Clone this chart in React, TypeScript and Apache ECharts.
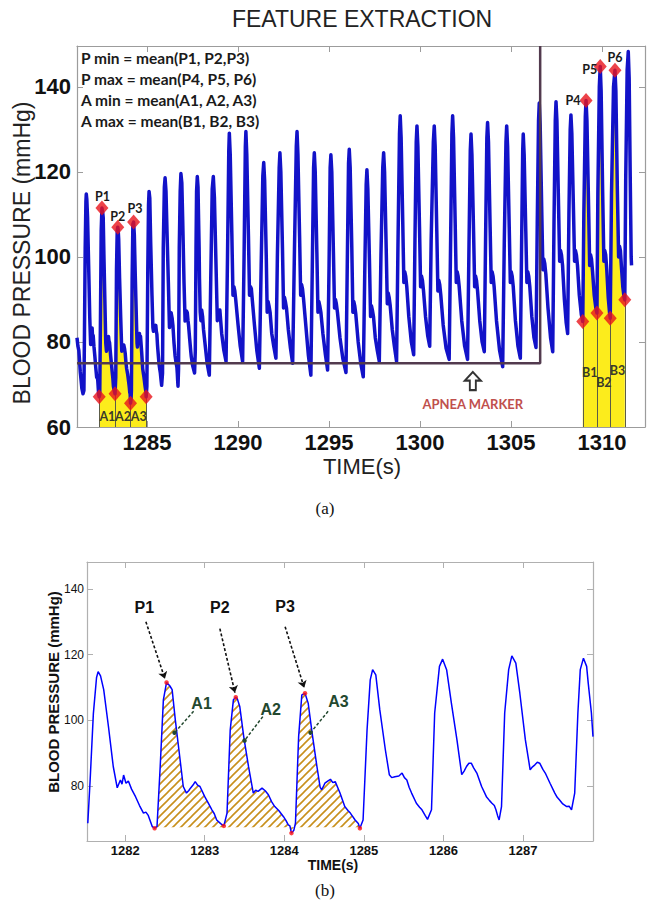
import React, { useEffect, useRef } from "react";
import * as echarts from "echarts";

// ---------- texts & ticks ----------
const chartTitle = "FEATURE EXTRACTION";
const formulaLines = [
  "P min = mean(P1, P2,P3)",
  "P max = mean(P4, P5, P6)",
  "A min = mean(A1, A2, A3)",
  "A max = mean(B1, B2, B3)",
];
const topXTicks = [1285, 1290, 1295, 1300, 1305, 1310];
const topYTicks = [60, 80, 100, 120, 140];
const botXTicks = [1282, 1283, 1284, 1285, 1286, 1287];
const botYTicks = [80, 100, 120, 140];

// ---------- blood pressure samples [time (s), mmHg] ----------
const leadIn: [number, number][] = [
  [1281.15, 81], [1281.2, 79], [1281.25, 78], [1281.33, 73], [1281.42, 69], [1281.48, 67.8],
];
const bpDetail: [number, number][] = [
  [1281.53, 68.6], [1281.56, 82], [1281.6, 102], [1281.64, 113], [1281.66, 114.8], [1281.69, 113.5], [1281.73, 109.3], [1281.79, 98], [1281.85, 85.9], [1281.9, 79.4], [1281.94, 81.8], [1281.96, 80.5], [1281.98, 83.3], [1282.01, 80.8], [1282.04, 81.5], [1282.08, 79], [1282.13, 76.7], [1282.18, 74], [1282.23, 71.7], [1282.26, 72], [1282.29, 71], [1282.34, 67.6], [1282.37, 67.1],
  [1282.4, 67.6], [1282.44, 85.9], [1282.48, 106.2], [1282.52, 111.5], [1282.56, 110.5], [1282.59, 109.3], [1282.63, 100.1], [1282.68, 90], [1282.73, 79.8], [1282.77, 77.8], [1282.8, 78.6], [1282.82, 79.3], [1282.86, 80.5], [1282.88, 81.3], [1282.91, 80.2], [1282.94, 79.8], [1283.0, 76.7], [1283.05, 74.5], [1283.09, 72.7], [1283.12, 71.5], [1283.15, 69.6], [1283.2, 68.5], [1283.24, 67.8],
  [1283.28, 71.7], [1283.32, 97], [1283.36, 106.2], [1283.39, 107], [1283.41, 106.5], [1283.44, 104.2], [1283.49, 95], [1283.55, 85.9], [1283.61, 77.8], [1283.64, 78.7], [1283.67, 78.3], [1283.72, 79.3], [1283.76, 78.5], [1283.8, 77.3], [1283.84, 75.2], [1283.88, 73.7], [1283.93, 72.5], [1283.99, 70.6], [1284.02, 69.5], [1284.05, 68.1], [1284.07, 67.8], [1284.09, 65.6],
  [1284.12, 66.5], [1284.14, 68.6], [1284.18, 95], [1284.22, 107.7], [1284.26, 108.2], [1284.3, 105.2], [1284.35, 96], [1284.41, 85.9], [1284.45, 79.6], [1284.47, 78.8], [1284.51, 80.8], [1284.55, 81.5], [1284.58, 82], [1284.61, 81], [1284.64, 81.3], [1284.7, 77.8], [1284.76, 73.7], [1284.8, 72.5], [1284.83, 71.7], [1284.89, 69.6], [1284.93, 68.5], [1284.95, 67.1],
  [1284.99, 69.6], [1285.04, 97], [1285.08, 112.3], [1285.11, 115.4], [1285.15, 113.8], [1285.2, 103.2], [1285.27, 91], [1285.32, 83.4], [1285.35, 82.5], [1285.39, 82.8], [1285.44, 83], [1285.48, 83.9], [1285.51, 82.5], [1285.54, 81.8], [1285.57, 79.5], [1285.6, 77.8], [1285.66, 74.7], [1285.7, 73.5], [1285.73, 72.7], [1285.77, 71], [1285.8, 69.8],
  [1285.85, 72.7], [1285.89, 102.2], [1285.95, 116.4], [1285.99, 118.6], [1286.04, 115.4], [1286.1, 105.2], [1286.17, 94], [1286.23, 83.4], [1286.26, 84.5], [1286.29, 85.9], [1286.32, 86.9], [1286.35, 86.9], [1286.38, 85.5], [1286.42, 83.9], [1286.48, 79.8], [1286.54, 76.7], [1286.58, 75.5], [1286.61, 74.7], [1286.64, 74], [1286.66, 72.7], [1286.68, 71], [1286.7, 69.6],
  [1286.73, 73.7], [1286.77, 102.2], [1286.82, 115.4], [1286.86, 119.6], [1286.91, 117.4], [1286.96, 108.3], [1287.03, 94], [1287.09, 84.9], [1287.12, 85.8], [1287.15, 86.4], [1287.18, 87.2], [1287.21, 86.9], [1287.25, 85], [1287.28, 83.9], [1287.34, 80.8], [1287.4, 77.8], [1287.43, 76.5], [1287.46, 75.7], [1287.5, 74.5], [1287.55, 73.7], [1287.58, 73.8], [1287.61, 72.7],
  [1287.65, 77.8], [1287.69, 102.2], [1287.72, 115.4], [1287.76, 118.9], [1287.8, 116.4], [1287.82, 111.3], [1287.86, 102.2], [1287.88, 95],
];
const bpLater: [number, number][] = [
  [1287.92, 87], [1287.96, 85], [1288.0, 87.5], [1288.05, 86], [1288.1, 83], [1288.2, 79], [1288.3, 75], [1288.42, 72.2],
  [1288.5, 95], [1288.58, 116], [1288.64, 118.9], [1288.7, 114], [1288.8, 96], [1288.86, 85], [1288.9, 87], [1288.95, 86.5], [1289.0, 87.5], [1289.1, 82], [1289.22, 78], [1289.34, 75.4],
  [1289.42, 100], [1289.49, 125], [1289.52, 129.1], [1289.57, 124], [1289.66, 105], [1289.72, 91], [1289.77, 93], [1289.82, 92], [1289.87, 90], [1290.0, 84], [1290.12, 79], [1290.25, 75.4],
  [1290.33, 100], [1290.4, 126], [1290.43, 129.5], [1290.48, 124], [1290.57, 105], [1290.63, 91], [1290.68, 93], [1290.73, 92.5], [1290.78, 90], [1290.9, 84], [1291.03, 78], [1291.17, 73.8],
  [1291.27, 98], [1291.36, 119], [1291.41, 122.2], [1291.46, 118], [1291.55, 100], [1291.6, 87], [1291.65, 89.5], [1291.7, 88.5], [1291.76, 87], [1291.85, 82], [1291.96, 79], [1292.08, 76.2],
  [1292.16, 100], [1292.26, 121], [1292.3, 124.5], [1292.35, 120], [1292.44, 102], [1292.5, 88], [1292.55, 90.5], [1292.6, 89.5], [1292.66, 88], [1292.76, 83], [1292.88, 78.5], [1293.0, 75],
  [1293.1, 102], [1293.2, 126], [1293.24, 129.5], [1293.29, 124], [1293.38, 105], [1293.44, 91], [1293.49, 93.5], [1293.54, 92.5], [1293.6, 90], [1293.72, 84], [1293.86, 77], [1294.0, 72.2],
  [1294.08, 98], [1294.15, 121], [1294.19, 124.5], [1294.24, 120], [1294.33, 101], [1294.39, 87], [1294.44, 89.5], [1294.49, 88.5], [1294.55, 87], [1294.66, 82], [1294.8, 77], [1294.92, 73.4],
  [1295.0, 98], [1295.06, 121], [1295.1, 124], [1295.15, 120], [1295.24, 101], [1295.3, 88], [1295.35, 90], [1295.4, 89], [1295.46, 87], [1295.6, 81], [1295.76, 76], [1295.93, 72.8],
  [1296.0, 98], [1296.07, 122], [1296.11, 125.3], [1296.16, 121], [1296.25, 102], [1296.31, 87], [1296.36, 89.5], [1296.41, 88.5], [1296.47, 86.5], [1296.6, 80], [1296.74, 75], [1296.88, 71.8],
  [1296.96, 96], [1297.04, 117], [1297.08, 120.5], [1297.13, 116], [1297.22, 99], [1297.28, 86], [1297.33, 88.5], [1297.38, 87.5], [1297.44, 86], [1297.54, 81], [1297.65, 78], [1297.76, 75.4],
  [1297.85, 100], [1297.95, 121], [1298.0, 124.5], [1298.05, 120], [1298.14, 102], [1298.2, 89], [1298.25, 91.5], [1298.3, 90.5], [1298.36, 88.5], [1298.47, 83], [1298.59, 79], [1298.71, 75.4],
  [1298.79, 104], [1298.87, 129], [1298.91, 133.2], [1298.96, 128], [1299.05, 108], [1299.11, 94], [1299.16, 96.5], [1299.21, 95.5], [1299.27, 93], [1299.38, 86], [1299.52, 80], [1299.65, 77],
  [1299.72, 104], [1299.79, 127], [1299.83, 130.8], [1299.88, 126], [1299.97, 107], [1300.03, 93], [1300.08, 95.5], [1300.13, 94.5], [1300.19, 92], [1300.3, 86], [1300.42, 81.5], [1300.53, 79],
  [1300.61, 104], [1300.73, 127], [1300.78, 130.8], [1300.83, 126], [1300.92, 106], [1300.98, 92], [1301.03, 94.5], [1301.08, 93.5], [1301.14, 91], [1301.27, 84], [1301.43, 78.5], [1301.6, 75.9],
  [1301.68, 104], [1301.75, 129], [1301.79, 133.2], [1301.84, 128], [1301.93, 108], [1301.99, 94], [1302.04, 96.5], [1302.09, 95.5], [1302.15, 93], [1302.29, 85], [1302.45, 79], [1302.61, 75.9],
  [1302.69, 103], [1302.76, 125], [1302.8, 128.9], [1302.85, 124], [1302.94, 106], [1303.0, 93], [1303.05, 95.5], [1303.1, 94.5], [1303.16, 92], [1303.28, 85], [1303.41, 80], [1303.53, 77.7],
  [1303.6, 104], [1303.67, 128], [1303.71, 131.6], [1303.76, 127], [1303.85, 107], [1303.91, 94], [1303.96, 96.5], [1304.01, 95.5], [1304.07, 93], [1304.2, 85], [1304.37, 78], [1304.54, 74.2],
  [1304.63, 104], [1304.72, 127], [1304.76, 130.8], [1304.81, 126], [1304.9, 107], [1304.96, 94], [1305.01, 96.5], [1305.06, 95.5], [1305.12, 93], [1305.24, 85], [1305.38, 79], [1305.51, 76.2],
  [1305.58, 103], [1305.64, 125], [1305.67, 128.9], [1305.72, 124], [1305.81, 106], [1305.87, 94], [1305.92, 96.5], [1305.97, 95.5], [1306.03, 93], [1306.14, 86], [1306.26, 81], [1306.37, 78.7],
  [1306.44, 108], [1306.51, 132], [1306.55, 136.2], [1306.6, 131], [1306.69, 110], [1306.75, 97], [1306.8, 99.5], [1306.85, 98.5], [1306.91, 96], [1307.03, 88], [1307.17, 81], [1307.29, 77.7],
  [1307.36, 108], [1307.43, 132], [1307.47, 136.5], [1307.52, 132], [1307.61, 112], [1307.67, 99], [1307.72, 101.5], [1307.77, 100.5], [1307.83, 98], [1307.93, 90], [1308.03, 84.5], [1308.11, 82],
  [1308.18, 110], [1308.25, 130], [1308.29, 133.4], [1308.34, 129], [1308.43, 111], [1308.49, 99], [1308.54, 101.5], [1308.59, 100.5], [1308.65, 98], [1308.75, 91], [1308.86, 86.5], [1308.94, 84.8],
  [1309.0, 110], [1309.08, 133], [1309.12, 136.8], [1309.17, 132], [1309.26, 112], [1309.32, 98], [1309.37, 100.5], [1309.42, 99.5], [1309.48, 96.5], [1309.57, 91], [1309.66, 88], [1309.72, 86.8],
  [1309.77, 115], [1309.85, 140], [1309.9, 144.8], [1309.95, 139], [1310.03, 116], [1310.1, 99], [1310.15, 101.5], [1310.2, 100.5], [1310.26, 97], [1310.34, 90.5], [1310.41, 87], [1310.45, 85.6],
  [1310.52, 115], [1310.63, 140], [1310.71, 143.9], [1310.76, 139], [1310.84, 116], [1310.91, 100], [1310.96, 102.5], [1311.01, 101.5], [1311.06, 98], [1311.14, 93], [1311.21, 90.5], [1311.25, 89.9],
  [1311.3, 118], [1311.38, 144], [1311.44, 148.3], [1311.49, 142], [1311.55, 118], [1311.6, 100], [1311.62, 98],
];

// ---------- feature points ----------
const pNames = ["P1", "P2", "P3", "P4", "P5", "P6"];
const pPeaks: [number, number][] = [
  [1282.52, 111.5], [1283.39, 107], [1284.26, 108.2], [1309.12, 136.8], [1309.9, 144.8], [1310.71, 143.9],
];
// where each P label sits (top panel)
const pLabelPos: [number, number][] = [
  [1282.55, 114.2], [1283.39, 109.5], [1284.34, 111.5], [1308.4, 136.8], [1309.33, 144.1], [1310.71, 146.8],
];
const aTroughs: [number, number][] = [[1282.37, 67.1], [1283.24, 67.8], [1284.09, 65.6], [1284.95, 67.1]];
const bTroughs: [number, number][] = [[1308.94, 84.8], [1309.72, 86.8], [1310.45, 85.6], [1311.25, 89.9]];
const aNames = ["A1", "A2", "A3"];
const aLabelPos: [number, number][] = [[1282.82, 62.4], [1283.68, 62.4], [1284.54, 62.4]];
const bNames = ["B1", "B2", "B3"];
const bLabelPos: [number, number][] = [[1309.33, 72.7], [1310.1, 70.4], [1310.85, 73.4]];
const apneaMarker: [number, number][] = [[1281.15, 75], [1306.6, 75], [1306.6, 149.6]];
const apneaArrow: [number, number] = [1302.9, 70.8];
const apneaText: [number, number] = [1302.9, 65.4];
const hatchBase = 67.4;

// bottom-panel annotations [time, mmHg]
const botPLabel: [number, number][] = [[1282.24, 134.3], [1283.19, 134.3], [1284.01, 134.6]];
const botPArrow: [number, number][][] = [
  [[1282.26, 130], [1282.5, 112.6]],
  [[1283.19, 127.9], [1283.38, 108.4]],
  [[1284.01, 128.5], [1284.25, 109.9]],
];
const botALabel: [number, number][] = [[1282.96, 105.2], [1283.83, 103.2], [1284.68, 105.7]];
const botAArrow: [number, number][][] = [
  [[1282.86, 102.7], [1282.62, 96.2]],
  [[1283.73, 101.1], [1283.5, 93.8]],
  [[1284.55, 102.7], [1284.33, 96.2]],
];

const SANS = "'Liberation Sans', Arial, sans-serif";
const CAL = "Lato, 'Open Sans', sans-serif";

function textSeries(axis: number, pts: [number, number][], names: string[], fontSize: number, fontFamily: string, color: string, z: number) {
  return {
    type: "custom",
    xAxisIndex: axis,
    yAxisIndex: axis,
    z,
    silent: true,
    clip: false,
    data: pts.map((p, i) => [p[0], p[1], i]),
    renderItem: (params: any, api: any) => {
      const c = api.coord([api.value(0), api.value(1)]);
      return {
        type: "text",
        x: c[0],
        y: c[1],
        style: {
          text: names[params.dataIndex],
          fontSize,
          fontWeight: "bold",
          fontFamily,
          fill: color,
          align: "center",
          verticalAlign: "middle",
        },
      };
    },
  };
}

export default function App() {
  const ref = useRef<HTMLDivElement>(null);
  useEffect(() => {
    const el = ref.current!;
    const chart = echarts.init(el, null, { renderer: "svg" });

    const cv = document.createElement("canvas");
    cv.width = 8;
    cv.height = 8;
    const ctx = cv.getContext("2d");
    if (ctx) {
      ctx.strokeStyle = "#c8901c";
      ctx.lineWidth = 1.6;
      ctx.beginPath();
      ctx.moveTo(0, 8); ctx.lineTo(8, 0);
      ctx.moveTo(-2, 2); ctx.lineTo(2, -2);
      ctx.moveTo(6, 10); ctx.lineTo(10, 6);
      ctx.stroke();
    }

    const topData = [...leadIn, ...bpDetail, ...bpLater];
    const yellowA = topData.filter((p) => p[0] >= aTroughs[0][0] && p[0] <= aTroughs[3][0]);
    const yellowB = topData.filter((p) => p[0] >= bTroughs[0][0] && p[0] <= bTroughs[3][0]);
    const hatch = bpDetail.filter((p) => p[0] >= aTroughs[0][0] && p[0] <= aTroughs[3][0]);
    const frame = "#9c9c9c";
    const plain = (v: number) => String(v);

    const mkX = (grid: number, min: number, max: number, ticks: number[], pos: string, labels: boolean, fs: number, lm: number, frameColor: string) => ({
      type: "value", gridIndex: grid, min, max, position: pos,
      axisLine: { show: true, onZero: false, lineStyle: { color: frameColor, width: 1.2 } },
      axisTick: { show: true, inside: true, length: 6, customValues: ticks, lineStyle: { color: frameColor } },
      axisLabel: { show: labels, customValues: ticks, formatter: plain, fontSize: fs, fontWeight: "bold", color: "#111", fontFamily: SANS, margin: lm },
      splitLine: { show: false },
    });
    const mkY = (grid: number, min: number, max: number, ticks: number[], pos: string, labels: boolean, fs: number, fw: string, lm: number, frameColor: string) => ({
      type: "value", gridIndex: grid, min, max, position: pos,
      axisLine: { show: true, onZero: false, lineStyle: { color: frameColor, width: 1.2 } },
      axisTick: { show: true, inside: true, length: 6, customValues: ticks, lineStyle: { color: frameColor } },
      axisLabel: { show: labels, customValues: ticks, formatter: plain, fontSize: fs, fontWeight: fw, color: "#111", fontFamily: SANS, margin: lm },
      splitLine: { show: false },
    });

    const option: any = {
      animation: false,
      backgroundColor: "#fff",
      grid: [
        { left: 77, top: 46, width: 568, height: 381 },
        { left: 87, top: 562, width: 506, height: 279 },
      ],
      xAxis: [
        mkX(0, 1281.15, 1312.36, topXTicks, "bottom", true, 22, 4, frame),
        mkX(0, 1281.15, 1312.36, topXTicks, "top", false, 22, 4, frame),
        mkX(1, 1281.52, 1287.88, botXTicks, "bottom", true, 13, 3, "#b0b0b0"),
        mkX(1, 1281.52, 1287.88, botXTicks, "top", false, 13, 3, "#b0b0b0"),
      ],
      yAxis: [
        mkY(0, 60, 149.6, topYTicks, "left", true, 22, "bold", 6, frame),
        mkY(0, 60, 149.6, topYTicks, "right", false, 22, "bold", 6, frame),
        mkY(1, 63.2, 148.2, botYTicks, "left", true, 12, "normal", 3, "#b0b0b0"),
        mkY(1, 63.2, 148.2, botYTicks, "right", false, 12, "normal", 3, "#b0b0b0"),
      ],
      graphic: [
        { type: "text", x: 362, y: 19, style: { text: chartTitle, fontSize: 23, fontFamily: SANS, fill: "#222", align: "center", verticalAlign: "middle" } },
        ...formulaLines.map((t, i) => ({
          type: "text", x: 81, y: 58 + i * 21, z: 50,
          style: { text: t, fontSize: 15.5, fontWeight: "bold", fontFamily: CAL, fill: "#1a1a1a", align: "left", verticalAlign: "middle" },
        })),
        { type: "text", x: 22, y: 253, rotation: Math.PI / 2, style: { text: "BLOOD PRESSURE (mmHg)", fontSize: 23, fontFamily: SANS, fill: "#222", align: "center", verticalAlign: "middle" } },
        { type: "text", x: 362, y: 466, style: { text: "TIME(s)", fontSize: 22, fontFamily: SANS, fill: "#222", align: "center", verticalAlign: "middle" } },
        { type: "text", x: 325, y: 508, style: { text: "(a)", fontSize: 17, fontFamily: "'Liberation Serif', serif", fill: "#111", align: "center", verticalAlign: "middle" } },
        { type: "text", x: 53, y: 692, rotation: Math.PI / 2, style: { text: "BLOOD PRESSURE (mmHg)", fontSize: 15, fontWeight: "bold", fontFamily: SANS, fill: "#111", align: "center", verticalAlign: "middle" } },
        { type: "text", x: 333, y: 865, style: { text: "TIME(s)", fontSize: 14, fontWeight: "bold", fontFamily: SANS, fill: "#111", align: "center", verticalAlign: "middle" } },
        { type: "text", x: 325, y: 890, style: { text: "(b)", fontSize: 17, fontFamily: "'Liberation Serif', serif", fill: "#111", align: "center", verticalAlign: "middle" } },
      ],
      series: [
        // ---- top panel ----
        { type: "line", z: 1, xAxisIndex: 0, yAxisIndex: 0, data: yellowA, showSymbol: false, symbol: "none", lineStyle: { width: 0 }, areaStyle: { color: "#fcec1c", opacity: 1, origin: "start" }, silent: true },
        { type: "line", z: 1, xAxisIndex: 0, yAxisIndex: 0, data: yellowB, showSymbol: false, symbol: "none", lineStyle: { width: 0 }, areaStyle: { color: "#fcec1c", opacity: 1, origin: "start" }, silent: true },
        {
          type: "lines", z: 3, coordinateSystem: "cartesian2d", xAxisIndex: 0, yAxisIndex: 0,
          data: [...aTroughs, ...bTroughs].map((p) => ({ coords: [[p[0], 60], p] })),
          lineStyle: { color: "#5c5c48", width: 1, opacity: 1 }, symbol: ["none", "none"], silent: true,
        },
        { type: "line", z: 4, xAxisIndex: 0, yAxisIndex: 0, data: topData, showSymbol: false, symbol: "none", lineStyle: { color: "#1212c8", width: 3.5, join: "round" } },
        { type: "line", z: 5, xAxisIndex: 0, yAxisIndex: 0, data: apneaMarker, showSymbol: false, symbol: "none", lineStyle: { color: "#523a4e", width: 2.5 } },
        {
          type: "scatter", z: 6, xAxisIndex: 0, yAxisIndex: 0, symbol: "diamond", symbolSize: [13, 15],
          itemStyle: { color: "#e8141b" },
          data: [...aTroughs, ...bTroughs, ...pPeaks],
        },
        {
          type: "scatter", z: 7, xAxisIndex: 0, yAxisIndex: 0, silent: true,
          symbol: "path://M8,0 L16,9 L11,9 L11,19 L5,19 L5,9 L0,9 Z", symbolSize: [16, 18],
          itemStyle: { color: "#ffffff", borderColor: "#000", borderWidth: 2 },
          data: [apneaArrow],
        },
        textSeries(0, pLabelPos, pNames, 12.5, CAL, "#1a1a1a", 8),
        textSeries(0, [...aLabelPos, ...bLabelPos], [...aNames, ...bNames], 12.5, CAL, "#3a3a2a", 8),
        textSeries(0, [apneaText], ["APNEA MARKER"], 13, CAL, "#c0504d", 8),
        // ---- bottom panel ----
        {
          type: "line", z: 1, xAxisIndex: 2, yAxisIndex: 2, data: hatch, showSymbol: false, symbol: "none", lineStyle: { width: 0 },
          areaStyle: { color: { image: cv, repeat: "repeat", imageWidth: 8, imageHeight: 8 } as any, opacity: 1, origin: hatchBase },
          silent: true,
        },
        { type: "line", z: 4, xAxisIndex: 2, yAxisIndex: 2, data: bpDetail, showSymbol: false, symbol: "none", lineStyle: { color: "#0000ff", width: 1.5 } },
        {
          type: "scatter", z: 6, xAxisIndex: 2, yAxisIndex: 2, symbol: "circle", symbolSize: 4.5, itemStyle: { color: "#ff1010" },
          data: [...aTroughs, ...pPeaks.slice(0, 3)],
        },
        {
          type: "lines", z: 6, coordinateSystem: "cartesian2d", xAxisIndex: 2, yAxisIndex: 2,
          data: botPArrow.map((c) => ({ coords: c })),
          lineStyle: { color: "#111", width: 1.6, type: [3, 2], opacity: 1 }, symbol: ["none", "arrow"], symbolSize: 7, silent: true,
        },
        {
          type: "lines", z: 6, coordinateSystem: "cartesian2d", xAxisIndex: 2, yAxisIndex: 2,
          data: botAArrow.map((c) => ({ coords: c })),
          lineStyle: { color: "#23482f", width: 1.5, type: [3, 2], opacity: 1 }, symbol: ["none", "circle"], symbolSize: 4.5, silent: true,
        },
        textSeries(2, botPLabel, pNames, 16, SANS, "#111", 8),
        textSeries(2, botALabel, aNames, 16, SANS, "#23482f", 8),
      ],
    };
    chart.setOption(option);
    return () => chart.dispose();
  }, []);

  return (
    <div
      ref={ref}
      style={{ position: "absolute", left: 0, top: 0, width: 650, height: 903, background: "#fff" }}
    />
  );
}
